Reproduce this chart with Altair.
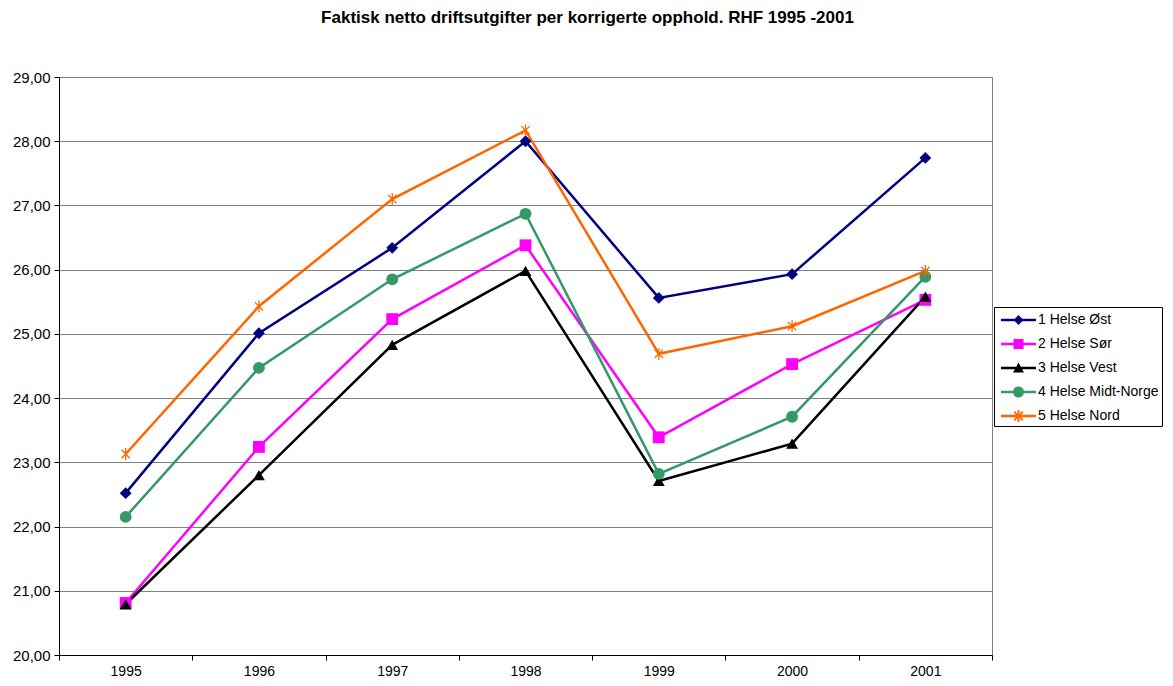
import math
import altair as alt
import pandas as pd

# ---------------- data ----------------
years = [1995, 1996, 1997, 1998, 1999, 2000, 2001]
series = ["1 Helse Øst", "2 Helse Sør", "3 Helse Vest", "4 Helse Midt-Norge", "5 Helse Nord"]
helse_ost = [22.52, 25.01, 26.34, 28.00, 25.56, 25.93, 27.74]
helse_sor = [20.81, 23.24, 25.23, 26.38, 23.39, 24.53, 25.53]
helse_vest = [20.79, 22.80, 24.83, 25.98, 22.71, 23.29, 25.58]
helse_midt = [22.15, 24.47, 25.85, 26.87, 22.82, 23.71, 25.89]
helse_nord = [23.13, 25.43, 27.10, 28.17, 24.69, 25.12, 25.98]
y_ticks = [20, 21, 22, 23, 24, 25, 26, 27, 28, 29]
title_text = "Faktisk netto driftsutgifter per korrigerte opphold. RHF 1995 -2001"

# ---------------- styles ----------------
colors = ["#000080", "#FF00FF", "#000000", "#339966", "#FF6600"]
FONT = "Liberation Sans"


def rect(x0, y0, x1, y1):
    return f"M{x0:.3f},{y0:.3f}H{x1:.3f}V{y1:.3f}H{x0:.3f}Z"


def bar(cx, cy, half_len, half_th, angle_deg):
    a = math.radians(angle_deg)
    dx, dy = math.cos(a), math.sin(a)
    nx, ny = -math.sin(a), math.cos(a)
    pts = [
        (cx - half_len * dx - half_th * nx, cy - half_len * dy - half_th * ny),
        (cx + half_len * dx - half_th * nx, cy + half_len * dy - half_th * ny),
        (cx + half_len * dx + half_th * nx, cy + half_len * dy + half_th * ny),
        (cx - half_len * dx + half_th * nx, cy - half_len * dy + half_th * ny),
    ]
    return "M" + "L".join(f"{x:.3f},{y:.3f}" for x, y in pts) + "Z"


def asterisk(cx, r, th):
    return "".join(bar(cx, 0, r, th, ang) for ang in (90, 45, 135))


# marker shapes for the plot
plot_shapes = ["diamond", "square", "triangle-up", "circle", asterisk(0, 1.0, 0.11)]

# legend symbols: line segment + marker (units of 10px for symbol size 400)
lx0, lx1, mc = -0.6, 2.9, 1.15
line_path = rect(lx0, -0.12, lx1, 0.12)
m = 0.5
legend_shapes = [
    line_path + f"M{mc:.3f},{-m}L{mc + m:.3f},0L{mc:.3f},{m}L{mc - m:.3f},0Z",
    line_path + rect(mc - 0.5, -0.5, mc + 0.5, 0.5),
    line_path + f"M{mc:.3f},-0.55L{mc + 0.55:.3f},0.45L{mc - 0.55:.3f},0.45Z",
    line_path + f"M{mc - 0.55:.3f},0A0.55,0.55 0 1,1 {mc + 0.55:.3f},0A0.55,0.55 0 1,1 {mc - 0.55:.3f},0Z",
    line_path + asterisk(mc, 0.6, 0.09),
]

rows = []
for name, vals in zip(series, [helse_ost, helse_sor, helse_vest, helse_midt, helse_nord]):
    for yr, v in zip(years, vals):
        rows.append({"year": str(yr), "series": name, "value": v})
df = pd.DataFrame(rows)

x_enc = alt.X(
    "year:O",
    bandPosition=0.5,
    sort=[str(y) for y in years],
    scale=alt.Scale(type="band", paddingInner=0, paddingOuter=0),
    axis=alt.Axis(
        title=None, tickBand="extent", labelAngle=0, tickSize=5, labelPadding=4,
        domainColor="black", tickColor="black", labelColor="black",
        labelFont=FONT, labelFontSize=14, grid=False,
    ),
)
y_enc = alt.Y(
    "value:Q",
    scale=alt.Scale(domain=[20, 29], nice=False, zero=False),
    axis=alt.Axis(
        title=None, values=y_ticks, tickSize=5, labelPadding=4,
        labelExpr="replace(format(datum.value, '.2f'), '.', ',')",
        domainColor="black", tickColor="black", labelColor="black",
        labelFont=FONT, labelFontSize=15,
        grid=True, gridColor="#808080", gridWidth=1,
    ),
)

color_plot = alt.Color("series:N", scale=alt.Scale(domain=series, range=colors), legend=None)

lines = alt.Chart(df).mark_line(strokeWidth=2.5).encode(
    x=x_enc, y=y_enc, color=color_plot, detail="series:N",
)

points = alt.Chart(df).mark_point(filled=True, opacity=1, size=140).encode(
    x=x_enc, y=y_enc, color=color_plot,
    shape=alt.Shape("series:N", scale=alt.Scale(domain=series, range=plot_shapes), legend=None),
)

legend_props = dict(
    title=None, orient="none", legendX=935, legendY=230,
    strokeColor="black", fillColor="white", padding=3, rowPadding=7,
    labelOffset=21, labelFont=FONT, labelFontSize=14, labelColor="black",
    symbolSize=400, symbolStrokeWidth=0,
)

legend_layer = alt.Chart(df).transform_filter("false").mark_point(
    filled=True, opacity=1, size=400
).encode(
    color=alt.Color("series:N", scale=alt.Scale(domain=series, range=colors),
                    legend=alt.Legend(**legend_props)),
    shape=alt.Shape("series:N", scale=alt.Scale(domain=series, range=legend_shapes),
                    legend=alt.Legend(**legend_props)),
)

chart = (
    alt.layer(lines, points, legend_layer)
    .resolve_scale(color="independent", shape="independent")
    .properties(
        width=933, height=578,
        padding={"left": 51, "top": 69, "right": 173, "bottom": 23},
        autosize=alt.AutoSizeParams(type="none"),
        title=alt.TitleParams(
            text=title_text, font=FONT, fontSize=17, fontWeight="bold", color="black",
            anchor="middle", dx=62, offset=30, baseline="alphabetic",
        ),
    )
    .configure_view(stroke="#808080", strokeWidth=1)
)

chart.save("out.html", embed_options={"renderer": "svg", "actions": False})
